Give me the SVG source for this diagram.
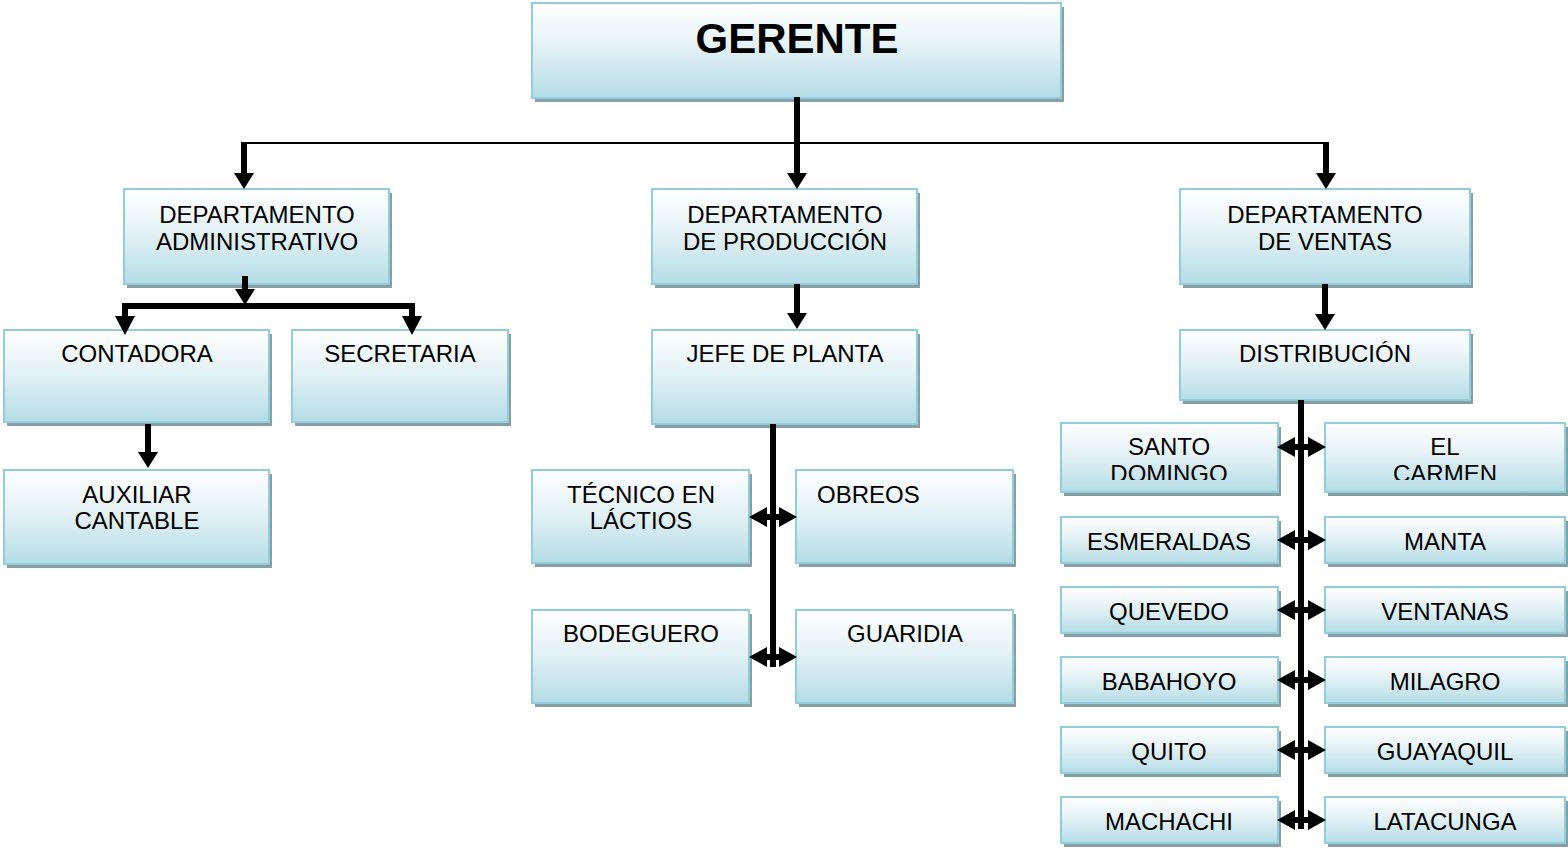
<svg xmlns="http://www.w3.org/2000/svg" width="1568" height="852" viewBox="0 0 1568 852">
<defs>
<linearGradient id="g" x1="0" y1="0" x2="0" y2="1">
<stop offset="0" stop-color="#ffffff"/>
<stop offset="0.45" stop-color="#e4f2f6"/>
<stop offset="1" stop-color="#b5dce6"/>
</linearGradient>
<filter id="blur" x="-5%" y="-5%" width="110%" height="120%"><feGaussianBlur stdDeviation="0.7"/></filter>
<marker id="ah" viewBox="0 0 16 20" markerWidth="16" markerHeight="20" refX="0" refY="10" orient="auto-start-reverse" markerUnits="userSpaceOnUse">
<path d="M0,0 L16,10 L0,20 z" fill="#000"/>
</marker>
<marker id="ahL" viewBox="0 0 18 20" markerWidth="18" markerHeight="20" refX="0" refY="10" orient="auto-start-reverse" markerUnits="userSpaceOnUse">
<path d="M0,0 L18,10 L0,20 z" fill="#000"/>
</marker>
<clipPath id="clip1"><rect x="1040" y="420" width="528" height="60"/></clipPath>
</defs>
<style>
.sh{fill:#879ea5;filter:url(#blur)}
.bx{fill:url(#g);stroke:#92cddc;stroke-width:2}
text{font-family:"Liberation Sans",Arial,sans-serif;font-size:24px;fill:#000;text-anchor:middle}
.big{font-size:42px;font-weight:bold}
.l{text-anchor:start}
.thick{stroke:#000;stroke-width:6;fill:none}
.thin{stroke:#000;stroke-width:2;fill:none}
.arr{stroke:#000;stroke-width:6;fill:none;marker-end:url(#ah)}
.dbl{stroke:#000;stroke-width:6;fill:none;marker-start:url(#ahL);marker-end:url(#ahL)}
</style>
<rect width="1568" height="852" fill="#fff"/>

<g id="gerente"><rect class="sh" x="535" y="7" width="529" height="95"/><rect class="bx" x="532" y="3" width="529" height="95"/><text class="big" x="797" y="53">GERENTE</text></g>

<g id="dep-admin"><rect class="sh" x="127" y="193" width="265" height="95"/><rect class="bx" x="124" y="189" width="265" height="95"/><text x="257" y="223">DEPARTAMENTO</text><text x="257" y="250">ADMINISTRATIVO</text></g>
<g id="dep-prod"><rect class="sh" x="655" y="193" width="265" height="95"/><rect class="bx" x="652" y="189" width="265" height="95"/><text x="785" y="223">DEPARTAMENTO</text><text x="785" y="250">DE PRODUCCIÓN</text></g>
<g id="dep-ventas"><rect class="sh" x="1183" y="193" width="290" height="95"/><rect class="bx" x="1180" y="189" width="290" height="95"/><text x="1325" y="223">DEPARTAMENTO</text><text x="1325" y="250">DE VENTAS</text></g>

<g id="contadora"><rect class="sh" x="7" y="334" width="265" height="92"/><rect class="bx" x="4" y="330" width="265" height="92"/><text x="137" y="362">CONTADORA</text></g>
<g id="secretaria"><rect class="sh" x="295" y="334" width="216" height="92"/><rect class="bx" x="292" y="330" width="216" height="92"/><text x="400" y="362">SECRETARIA</text></g>
<g id="jefe"><rect class="sh" x="655" y="334" width="265" height="94"/><rect class="bx" x="652" y="330" width="265" height="94"/><text x="785" y="362">JEFE DE PLANTA</text></g>
<g id="distribucion"><rect class="sh" x="1183" y="334" width="290" height="70"/><rect class="bx" x="1180" y="330" width="290" height="70"/><text x="1325" y="362">DISTRIBUCIÓN</text></g>

<g id="auxiliar"><rect class="sh" x="7" y="474" width="265" height="94"/><rect class="bx" x="4" y="470" width="265" height="94"/><text x="137" y="503">AUXILIAR</text><text x="137" y="529">CANTABLE</text></g>

<g id="tecnico"><rect class="sh" x="535" y="474" width="217" height="93"/><rect class="bx" x="532" y="470" width="217" height="93"/><text x="641" y="503">TÉCNICO EN</text><text x="641" y="529">LÁCTIOS</text></g>
<g id="obreos"><rect class="sh" x="799" y="474" width="217" height="93"/><rect class="bx" x="796" y="470" width="217" height="93"/><text class="l" x="817" y="503">OBREOS</text></g>
<g id="bodeguero"><rect class="sh" x="535" y="614" width="217" height="93"/><rect class="bx" x="532" y="610" width="217" height="93"/><text x="641" y="642">BODEGUERO</text></g>
<g id="guaridia"><rect class="sh" x="799" y="614" width="217" height="93"/><rect class="bx" x="796" y="610" width="217" height="93"/><text x="905" y="642">GUARIDIA</text></g>

<g id="santo-domingo"><rect class="sh" x="1064" y="427" width="217" height="69"/><rect class="bx" x="1061" y="423" width="217" height="69"/><g clip-path="url(#clip1)"><text x="1169" y="455">SANTO</text><text x="1169" y="482">DOMINGO</text></g></g>
<g id="el-carmen"><rect class="sh" x="1328" y="427" width="240" height="69"/><rect class="bx" x="1325" y="423" width="240" height="69"/><g clip-path="url(#clip1)"><text x="1445" y="455">EL</text><text x="1445" y="482">CARMEN</text></g></g>

<g id="esmeraldas"><rect class="sh" x="1064" y="521" width="217" height="46"/><rect class="bx" x="1061" y="517" width="217" height="46"/><text x="1169" y="550">ESMERALDAS</text></g>
<g id="manta"><rect class="sh" x="1328" y="521" width="240" height="46"/><rect class="bx" x="1325" y="517" width="240" height="46"/><text x="1445" y="550">MANTA</text></g>
<g id="quevedo"><rect class="sh" x="1064" y="591" width="217" height="46"/><rect class="bx" x="1061" y="587" width="217" height="46"/><text x="1169" y="620">QUEVEDO</text></g>
<g id="ventanas"><rect class="sh" x="1328" y="591" width="240" height="46"/><rect class="bx" x="1325" y="587" width="240" height="46"/><text x="1445" y="620">VENTANAS</text></g>
<g id="babahoyo"><rect class="sh" x="1064" y="661" width="217" height="46"/><rect class="bx" x="1061" y="657" width="217" height="46"/><text x="1169" y="690">BABAHOYO</text></g>
<g id="milagro"><rect class="sh" x="1328" y="661" width="240" height="46"/><rect class="bx" x="1325" y="657" width="240" height="46"/><text x="1445" y="690">MILAGRO</text></g>
<g id="quito"><rect class="sh" x="1064" y="731" width="217" height="46"/><rect class="bx" x="1061" y="727" width="217" height="46"/><text x="1169" y="760">QUITO</text></g>
<g id="guayaquil"><rect class="sh" x="1328" y="731" width="240" height="46"/><rect class="bx" x="1325" y="727" width="240" height="46"/><text x="1445" y="760">GUAYAQUIL</text></g>
<g id="machachi"><rect class="sh" x="1064" y="801" width="217" height="46"/><rect class="bx" x="1061" y="797" width="217" height="46"/><text x="1169" y="830">MACHACHI</text></g>
<g id="latacunga"><rect class="sh" x="1328" y="801" width="240" height="46"/><rect class="bx" x="1325" y="797" width="240" height="46"/><text x="1445" y="830">LATACUNGA</text></g>

<g id="connectors">
<line class="thin" x1="244" y1="143" x2="1326" y2="143"/>
<line class="arr" x1="797" y1="97" x2="797" y2="173"/>
<line class="arr" x1="244" y1="142" x2="244" y2="173"/>
<line class="arr" x1="1326" y1="142" x2="1326" y2="173"/>
<line class="arr" x1="245" y1="276" x2="245" y2="289"/>
<polyline class="thick" points="125,318 125,306 412,306 412,318"/>
<path d="M115,316 L135,316 L125,335 z M402,316 L422,316 L412,335 z" fill="#000"/>
<line class="arr" x1="148" y1="424" x2="148" y2="452"/>
<line class="arr" x1="797" y1="284" x2="797" y2="313"/>
<line class="arr" x1="1325" y1="284" x2="1325" y2="314"/>
<line class="thick" x1="773" y1="424" x2="773" y2="667"/>
<line class="dbl" x1="767" y1="517" x2="779" y2="517"/>
<line class="dbl" x1="767" y1="657" x2="779" y2="657"/>
<line class="thick" x1="1301" y1="400" x2="1301" y2="829"/>
<line class="dbl" x1="1295" y1="447" x2="1308" y2="447"/>
<line class="dbl" x1="1295" y1="540" x2="1308" y2="540"/>
<line class="dbl" x1="1295" y1="610" x2="1308" y2="610"/>
<line class="dbl" x1="1295" y1="680" x2="1308" y2="680"/>
<line class="dbl" x1="1295" y1="750" x2="1308" y2="750"/>
<line class="dbl" x1="1295" y1="820" x2="1308" y2="820"/>
</g>
</svg>
